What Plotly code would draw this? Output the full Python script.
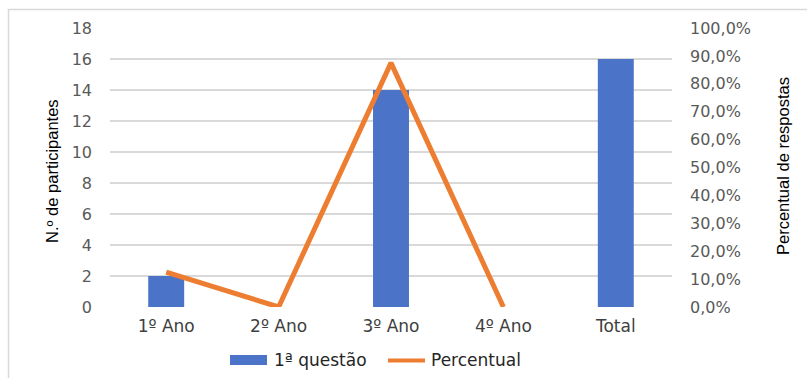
import plotly.graph_objects as go

# Participantes por ano e percentual de respostas
categorias = ["1º Ano", "2º Ano", "3º Ano", "4º Ano", "Total"]
participantes = [2, 0, 14, 0, 16]
categorias_pct = ["1º Ano", "2º Ano", "3º Ano", "4º Ano"]
percentual = [0.125, 0.0, 0.875, 0.0]

COR_BARRA = "#4b74c8"
COR_LINHA = "#ed7d31"

W, H = 807, 378
L, R, T, B = 110, 135, 28, 71
pw = W - L - R
ph = H - T - B


def px_x(x):
    return (x - L) / pw


def px_y(y):
    return (H - B - y) / ph


fig = go.Figure()
fig.add_trace(go.Bar(
    x=categorias, y=participantes, name="1ª questão",
    marker=dict(color=COR_BARRA, line=dict(width=0)),
    yaxis="y", showlegend=False,
))
fig.add_trace(go.Scatter(
    x=categorias_pct, y=percentual, name="Percentual",
    mode="lines", line=dict(color=COR_LINHA, width=5),
    yaxis="y2", showlegend=False,
))

FONTE = "DejaVu Sans, Verdana, sans-serif"
tick_font = dict(family=FONTE, size=16, color="#595959")
titulo_font = dict(family="Liberation Sans, Arial, sans-serif", size=16.5, color="#000000")
legenda_font = dict(family=FONTE, size=17, color="#262626")

fig.update_layout(
    width=W, height=H,
    margin=dict(l=L, r=R, t=T, b=B, pad=0),
    paper_bgcolor="white", plot_bgcolor="white",
    separators=",.",
    bargap=0.68,
    showlegend=False,
    xaxis=dict(
        tickfont=dict(family=FONTE, size=17, color="#404040"),
        showline=False, showgrid=False, zeroline=False, ticks="",
        ticklabelstandoff=7, automargin=False,
    ),
    yaxis=dict(
        range=[0, 18], dtick=2, tickfont=tick_font,
        showgrid=True, gridcolor="#d9d9d9", gridwidth=1.5,
        zeroline=False, showline=False, ticks="",
        ticklabelstandoff=17, automargin=False,
    ),
    yaxis2=dict(
        range=[0, 1], dtick=0.1, tickformat=".1%", tickfont=tick_font,
        overlaying="y", side="right",
        showgrid=False, zeroline=False, showline=False, ticks="",
        ticklabelstandoff=17, automargin=False,
    ),
    shapes=[
        # moldura do gráfico
        dict(type="line", xref="paper", yref="paper",
             x0=px_x(8.5), x1=px_x(8.5), y0=px_y(9), y1=px_y(H + 2),
             line=dict(color="#d9d9d9", width=1.5)),
        dict(type="line", xref="paper", yref="paper",
             x0=px_x(8.5), x1=px_x(W + 2), y0=px_y(9.5), y1=px_y(9.5),
             line=dict(color="#d9d9d9", width=1.5)),
        # símbolos da legenda
        dict(type="rect", xref="paper", yref="paper",
             x0=px_x(230), x1=px_x(267), y0=px_y(365), y1=px_y(355),
             fillcolor=COR_BARRA, line=dict(width=0)),
        dict(type="line", xref="paper", yref="paper",
             x0=px_x(388), x1=px_x(425), y0=px_y(360.5), y1=px_y(360.5),
             line=dict(color=COR_LINHA, width=4)),
    ],
    annotations=[
        dict(text="N.º de participantes", xref="paper", yref="paper",
             x=px_x(52), y=px_y(171), textangle=-90, showarrow=False,
             xanchor="center", yanchor="middle", font=titulo_font),
        dict(text="Percentual de respostas", xref="paper", yref="paper",
             x=px_x(783), y=px_y(166), textangle=-90, showarrow=False,
             xanchor="center", yanchor="middle", font=titulo_font),
        dict(text="1ª questão", xref="paper", yref="paper",
             x=px_x(272), y=px_y(360), showarrow=False,
             xanchor="left", yanchor="middle", font=legenda_font),
        dict(text="Percentual", xref="paper", yref="paper",
             x=px_x(429), y=px_y(360), showarrow=False,
             xanchor="left", yanchor="middle", font=legenda_font),
    ],
)

fig.write_html("out.html")
